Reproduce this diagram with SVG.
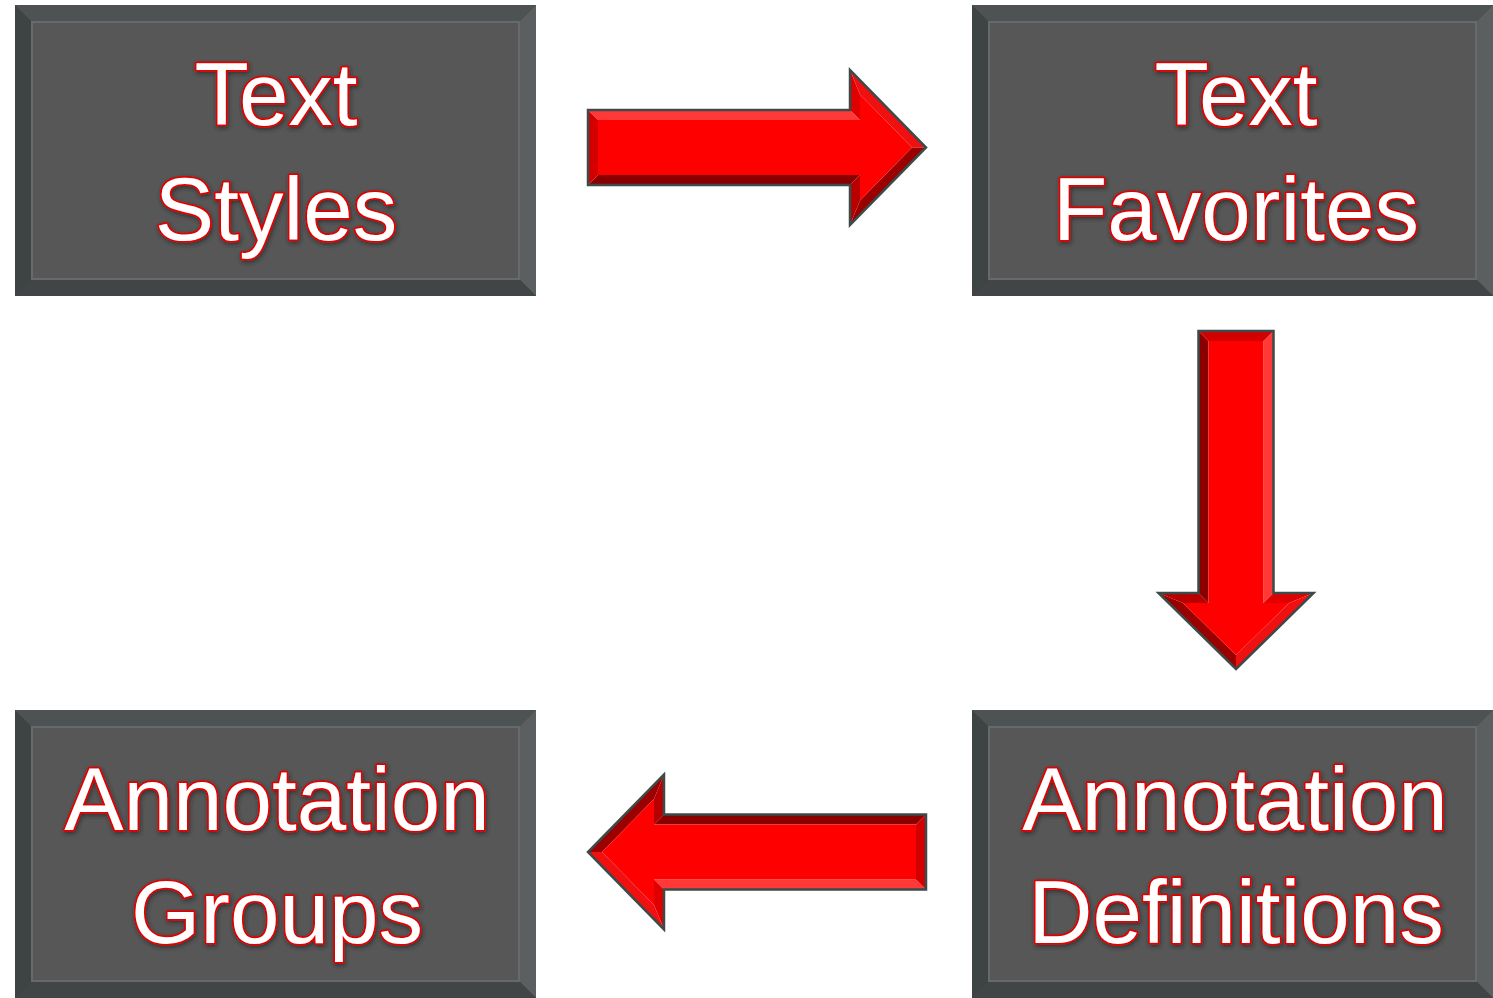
<svg xmlns="http://www.w3.org/2000/svg" xmlns:xlink="http://www.w3.org/1999/xlink" width="1493" height="998" viewBox="0 0 1493 998">
<style>
.face{fill:#575757}
.bt{fill:#4d5253}
.bl{fill:#3e4344}
.br{fill:#5c5f60}
.bb{fill:#414546}
.hl{fill:none;stroke:#666a6a;stroke-width:2}
.lbl{font-family:"Liberation Sans",Arial,sans-serif;font-size:89px;fill:#ffffff;stroke:#e00000;stroke-width:3.5;paint-order:stroke;stroke-linejoin:round;text-anchor:middle;filter:url(#sh)}
.a-top{fill:#ff3838}
.a-nu{fill:#e00000}
.a-hu{fill:#f01010}
.a-hl{fill:#9a0000}
.a-nl{fill:#b80000}
.a-bot{fill:#8a0000}
.a-end{fill:#d40000}
.a-in{fill:#ff0000}
.a-out{fill:none;stroke:#3d4a4a;stroke-width:2.5;stroke-linejoin:miter}
</style>
<defs>
<filter id="sh" x="-10%" y="-10%" width="120%" height="130%">
<feDropShadow dx="1" dy="2" stdDeviation="2" flood-color="#222" flood-opacity="0.7"/>
</filter>
<g id="arrow">
<polygon class="a-top" points="0,-37.5 262,-37.5 272,-27.5 10,-27.5"/>
<polygon class="a-nu" points="262,-37.5 262,-77.5 272,-53 272,-27.5"/>
<polygon class="a-hu" points="262,-77.5 338,0 324,0 272,-53"/>
<polygon class="a-hl" points="338,0 262,77.5 272,53 324,0"/>
<polygon class="a-nl" points="262,77.5 262,37.5 272,27.5 272,53"/>
<polygon class="a-bot" points="262,37.5 0,37.5 10,27.5 272,27.5"/>
<polygon class="a-end" points="0,37.5 0,-37.5 10,-27.5 10,27.5"/>
<polygon class="a-in" points="10,-27.5 272,-27.5 272,-53 324,0 272,53 272,27.5 10,27.5"/>
<polygon class="a-out" points="0,-37.5 262,-37.5 262,-77.5 338,0 262,77.5 262,37.5 0,37.5"/>
</g>
</defs>
<rect width="1493" height="998" fill="#ffffff"/>

<g id="node-text-styles">
<rect x="15" y="5" width="521" height="291" class="bl"/>
<polygon class="bt" points="15,5 536,5 519,22 32,22"/>
<polygon class="br" points="536,5 536,296 519,279 519,22"/>
<polygon class="bb" points="15,296 536,296 519,279 32,279"/>
<rect x="32" y="22" width="487" height="257" class="face"/>
<rect x="32" y="22" width="487" height="257" class="hl"/>
<text class="lbl" x="276" y="125">Text</text>
<text class="lbl" x="276" y="240">Styles</text>
</g>

<g id="node-text-favorites">
<rect x="972" y="5" width="521" height="291" class="bl"/>
<polygon class="bt" points="972,5 1493,5 1476,22 989,22"/>
<polygon class="br" points="1493,5 1493,296 1476,279 1476,22"/>
<polygon class="bb" points="972,296 1493,296 1476,279 989,279"/>
<rect x="989" y="22" width="487" height="257" class="face"/>
<rect x="989" y="22" width="487" height="257" class="hl"/>
<text class="lbl" x="1236" y="125">Text</text>
<text class="lbl" x="1236" y="240">Favorites</text>
</g>

<g id="node-annotation-groups">
<rect x="15" y="710" width="521" height="288" class="bl"/>
<polygon class="bt" points="15,710 536,710 519,727 32,727"/>
<polygon class="br" points="536,710 536,998 519,981 519,727"/>
<polygon class="bb" points="15,998 536,998 519,981 32,981"/>
<rect x="32" y="727" width="487" height="254" class="face"/>
<rect x="32" y="727" width="487" height="254" class="hl"/>
<text class="lbl" x="277" y="830">Annotation</text>
<text class="lbl" x="277" y="943">Groups</text>
</g>

<g id="node-annotation-definitions">
<rect x="972" y="710" width="521" height="288" class="bl"/>
<polygon class="bt" points="972,710 1493,710 1476,727 989,727"/>
<polygon class="br" points="1493,710 1493,998 1476,981 1476,727"/>
<polygon class="bb" points="972,998 1493,998 1476,981 989,981"/>
<rect x="989" y="727" width="487" height="254" class="face"/>
<rect x="989" y="727" width="487" height="254" class="hl"/>
<text class="lbl" x="1235" y="830">Annotation</text>
<text class="lbl" x="1236" y="943">Definitions</text>
</g>

<g id="connectors">
<use xlink:href="#arrow" href="#arrow" transform="translate(588,147.5)"/>
<use xlink:href="#arrow" href="#arrow" transform="translate(1236,331) rotate(90)"/>
<use xlink:href="#arrow" href="#arrow" transform="translate(926,852) rotate(180)"/>
</g>
</svg>
